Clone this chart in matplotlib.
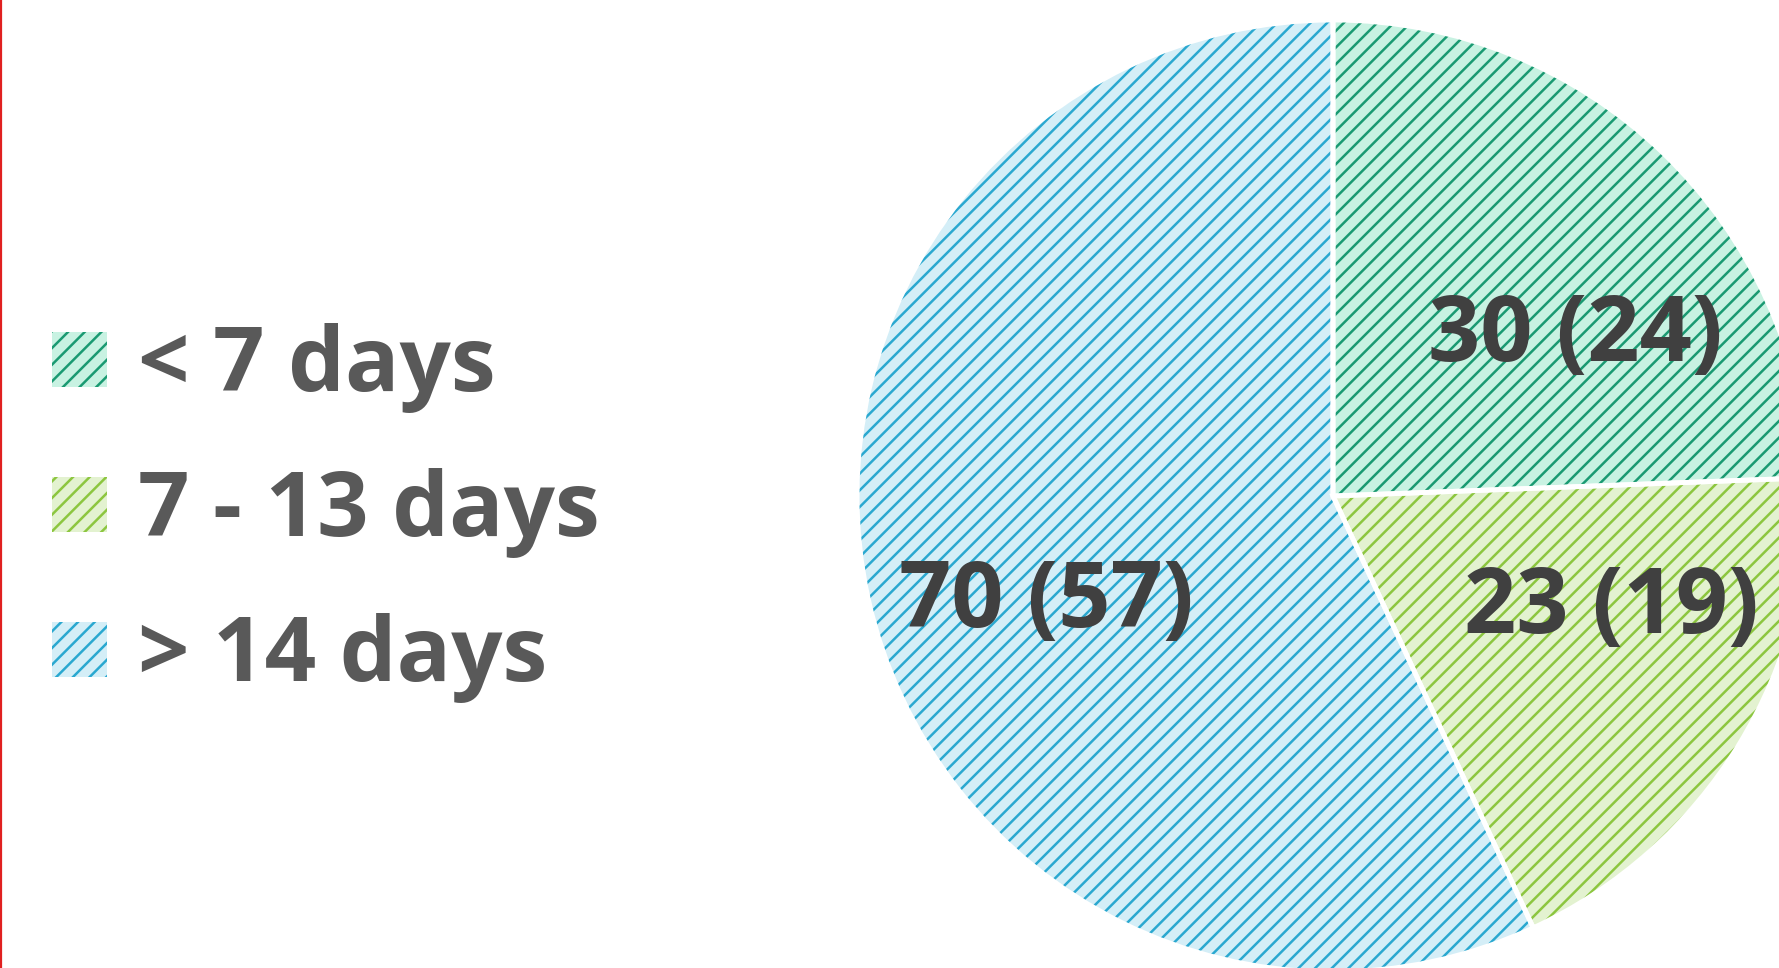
import matplotlib.pyplot as plt
from matplotlib.patches import Rectangle

# data
categories = ["< 7 days", "7 - 13 days", "> 14 days"]
counts = [30, 23, 70]
percents = [24, 19, 57]

face_colors = ["#c8f2e2", "#e3f2d0", "#d4eef7"]
hatch_colors = ["#1a9a72", "#8cc63f", "#2aa8d0"]

plt.rcParams['font.family'] = ['Open Sans', 'DejaVu Sans']
plt.rcParams['hatch.linewidth'] = 1.8

W, H = 1779, 968
fig = plt.figure(figsize=(W / 100, H / 100), dpi=100)
ax = fig.add_axes([0, 0, 1, 1])

cx, cy, r = 1333, H - 496, 476

# filled + hatched wedges
wedges, _ = ax.pie(counts, colors=face_colors, startangle=90, counterclock=False,
                   center=(cx, cy), radius=r, frame=True)
for w, hc in zip(wedges, hatch_colors):
    w.set_hatch('//')
    w.set_edgecolor(hc)
    w.set_linewidth(0)

# white separators on top
ax.pie(counts, colors=['none'] * 3, startangle=90, counterclock=False,
       center=(cx, cy), radius=r, frame=True,
       wedgeprops=dict(edgecolor='white', linewidth=3.5))

# value labels
label_pos = [(1575, H - 337), (1611, H - 609), (1046, H - 603)]
for (x, y), c, p in zip(label_pos, counts, percents):
    ax.text(x, y, "%d (%d)" % (c, p), ha='center', va='center',
            fontsize=66, fontweight='bold', color='#404040')

# legend, drawn by hand
for i, (lab, fc, hc) in enumerate(zip(categories, face_colors, hatch_colors)):
    top = 332 + i * 145
    sq = Rectangle((52, H - top - 55), 55, 55, facecolor=fc, edgecolor=hc,
                   hatch='//', linewidth=0)
    ax.add_patch(sq)
    ax.text(138, H - top - 36, lab, ha='left', va='center',
            fontsize=65, fontweight='bold', color='#595959')

# red border at the left edge
ax.axvline(1, color='#e02020', linewidth=1.6)

ax.set_xlim(0, W)
ax.set_ylim(0, H)
ax.set_aspect('auto')
ax.axis('off')

fig.savefig('out.png', dpi=100)
